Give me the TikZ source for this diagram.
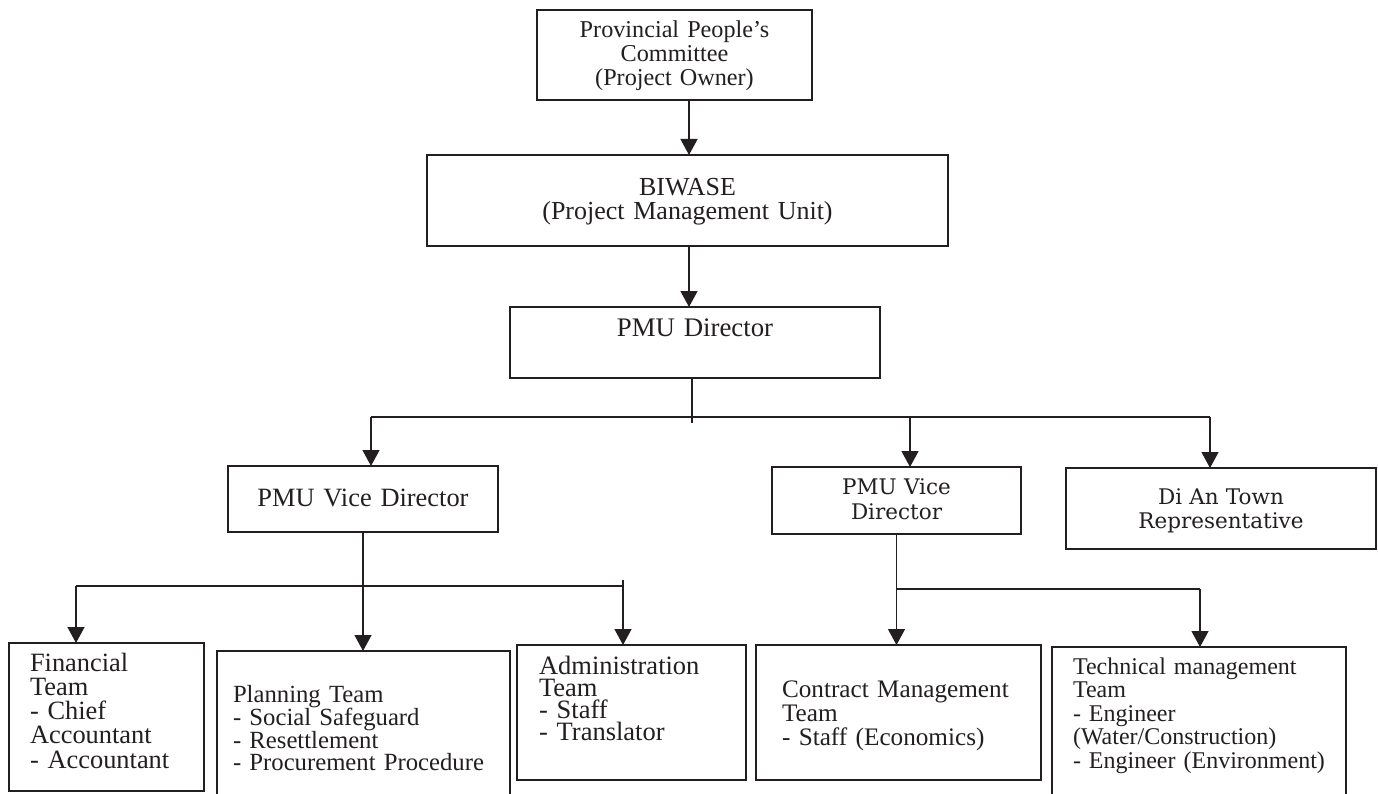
\documentclass[tikz,border=0pt]{standalone}
\usepackage{fontspec}
\newfontfamily\tnr{Liberation Serif}
\newfontfamily\csb{DejaVu Serif}
\usetikzlibrary{arrows.meta}
\definecolor{ink}{RGB}{35,31,32}
\begin{document}
\hyphenpenalty=10000
\exhyphenpenalty=10000
\begin{tikzpicture}[x=1pt,y=-1pt,
  box/.style={draw=ink, line width=1.3pt, anchor=north west, inner ysep=0pt,
              outer sep=0pt, text=ink},
  link/.style={draw=ink, line width=1.3pt},
  arr/.style={link, -{Triangle[length=16pt,width=17pt]}},
]
\useasboundingbox[fill=white] (0,0) rectangle (1378,794);

% ---- top chain ----
\node[box, align=center, inner xsep=5pt, text width=265pt, text height=27.3pt,
      text depth=62.7pt, font=\tnr\fontsize{24.2}{24}\selectfont]
  (own) at (537,10) {Provincial People’s\\Committee\\(Project Owner)};
\node[box, align=center, inner xsep=5pt, text width=511pt, text height=41pt,
      text depth=50pt, font=\tnr\fontsize{26}{24}\selectfont]
  (biwase) at (427,155) {BIWASE\\(Project Management Unit)};
\node[box, align=center, inner xsep=5pt, text width=360pt, text height=29pt,
      text depth=42pt, font=\tnr\fontsize{26.8}{26}\selectfont]
  (dir) at (510,307) {PMU Director};

% ---- second level ----
\node[box, align=center, inner xsep=5pt, text width=260pt, text height=40pt,
      text depth=26pt, font=\tnr\fontsize{26.4}{24}\selectfont]
  (vd1) at (228,466) {PMU Vice Director};
\node[box, align=center, inner xsep=5pt, text width=239pt, text height=27pt,
      text depth=40pt, font=\csb\fontsize{21.5}{25}\selectfont]
  (vd2) at (772,467) {PMU Vice\\Director};
\node[box, align=center, inner xsep=5pt, text width=300pt, text height=36pt,
      text depth=45pt, font=\csb\fontsize{21.5}{24}\selectfont]
  (dian) at (1066,468) {Di An Town\\Representative};

% ---- teams ----
\node[box, align=left, inner xsep=21pt, text width=153pt, text height=28pt,
      text depth=120pt, font=\tnr\fontsize{26.4}{24.3}\selectfont]
  (fin) at (9,643) {Financial\\Team\\- Chief\\Accountant\\- Accountant};
\node[box, align=left, inner xsep=16pt, text width=261pt, text height=51pt,
      text depth=94pt, font=\tnr\fontsize{24.7}{22.6}\selectfont]
  (plan) at (217,651) {Planning Team\\- Social Safeguard\\- Resettlement\\- Procurement Procedure};
\node[box, align=left, inner xsep=22pt, text width=185pt, text height=29pt,
      text depth=106pt, font=\tnr\fontsize{26.5}{22}\selectfont]
  (adm) at (517,645) {Administration\\Team\\- Staff\\- Translator};
\node[box, align=left, inner xsep=26pt, text width=233pt, text height=52pt,
      text depth=83pt, font=\tnr\fontsize{25.2}{24}\selectfont]
  (con) at (756,645) {Contract Management\\Team\\- Staff (Economics)};
\node[box, align=left, inner xsep=21pt, text width=252pt, text height=27pt,
      text depth=122pt, font=\tnr\fontsize{24}{23.5}\selectfont]
  (tech) at (1052,647) {Technical management\\Team\\- Engineer\\(Water/Construction)\\- Engineer (Environment)};

% ---- connectors ----
\coordinate (spine) at (689,0);
\draw[arr] (own.south -| spine) -- (biwase.north -| spine);
\draw[arr] (biwase.south -| spine) -- (dir.north -| spine);

\coordinate (drop) at (692,0);
\coordinate (b1L) at (371,417);
\coordinate (b1M) at (910,417);
\coordinate (b1R) at (1210,417);
\draw[link] (dir.south -| drop) -- ++(0,45);
\draw[link] (b1L) -- (b1R);
\draw[arr] (b1L) -- (b1L |- vd1.north);
\draw[arr] (b1M) -- (b1M |- vd2.north);
\draw[arr] (b1R) -- (b1R |- dian.north);

\coordinate (b2L) at (76,586);
\coordinate (b2R) at (623,586);
\draw[arr] (vd1.south) -- (vd1.south |- plan.north);
\draw[link] (b2L) -- (b2R);
\draw[arr] (b2L) -- (b2L |- fin.north);
\draw[arr] ([yshift=6pt]b2R) -- (b2R |- adm.north);

\coordinate (b3R) at (1200,589);
\draw[arr] (vd2.south) -- (vd2.south |- con.north);
\draw[link] (vd2.south |- b3R) -- (b3R);
\draw[arr] (b3R) -- (b3R |- tech.north);
\end{tikzpicture}
\end{document}
